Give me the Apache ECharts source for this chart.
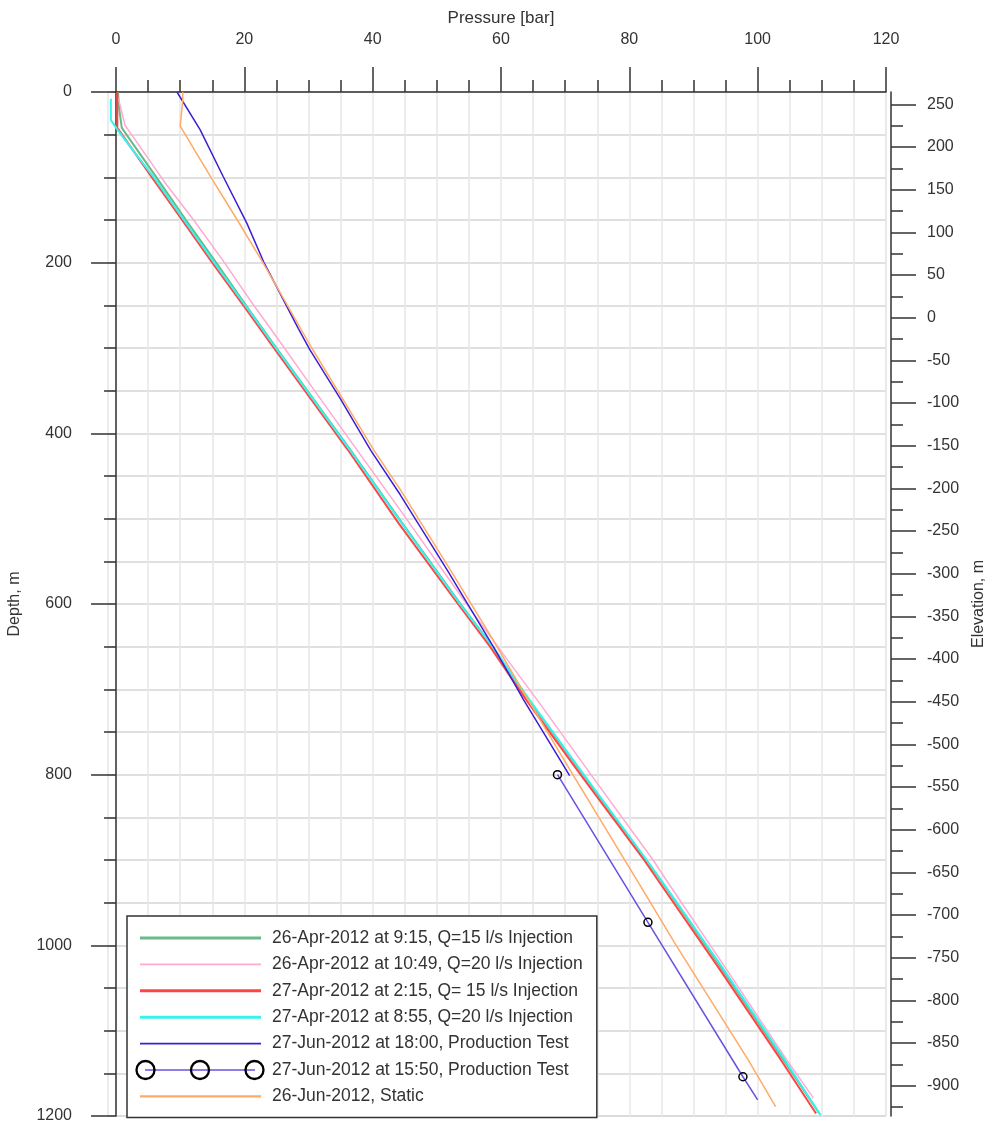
<!DOCTYPE html>
<html><head><meta charset="utf-8">
<script src="https://cdn.jsdelivr.net/npm/echarts@6.0.0/dist/echarts.min.js"></script>
<style>html,body{margin:0;padding:0;background:#fff}#c{width:987px;height:1124px}</style>
</head><body><div id="c"></div>
<script>
// ---- data: [pressure bar, depth m] ----
const seriesNames = [
  '26-Apr-2012 at 9:15, Q=15 l/s Injection',
  '26-Apr-2012 at 10:49, Q=20 l/s Injection',
  '27-Apr-2012 at 2:15, Q= 15 l/s Injection',
  '27-Apr-2012 at 8:55, Q=20 l/s Injection',
  '27-Jun-2012 at 18:00, Production Test',
  '27-Jun-2012 at 15:50, Production Test',
  '26-Jun-2012, Static'
];
const apr26_0915 = [[0.3,0],[0.5,20],[0.9,42],[6.3,100],[10.9,150],[15.6,200],[21.1,259],[25.0,300],[36.5,419],[44.3,502],[53.7,600],[58.7,650],[64.3,712],[72.8,800],[82.6,900],[84.9,924],[94.2,1025],[104.0,1134],[109.6,1197]];
const apr26_1049 = [[0.35,7],[1.4,39],[6.6,95],[7.9,109],[12.1,150],[16.9,200],[20.9,244],[25.3,290],[30.0,340],[35.7,400],[44.3,490],[53.7,590],[58.5,640],[65.6,712],[74.5,805],[83.7,900],[85.8,924],[95.3,1030],[104.5,1134],[108.7,1179]];
const apr27_0215 = [[0.2,0],[0.2,42],[5.6,100],[10.3,150],[15.0,200],[20.7,259],[24.6,300],[36.1,419],[44.0,505],[53.3,600],[58.3,650],[63.9,712],[72.4,800],[82.3,900],[84.5,924],[93.8,1025],[103.6,1134],[109.1,1197]];
const apr27_0855 = [[-0.8,8],[-0.8,33],[0.3,45],[3.0,72],[5.9,100],[10.6,150],[15.3,200],[21.0,259],[24.9,300],[36.4,419],[44.2,502],[53.6,600],[58.7,650],[64.4,712],[72.9,800],[82.7,900],[85.0,924],[94.4,1025],[104.2,1134],[109.8,1199]];
const jun27_1800 = [[9.5,0],[13.1,44],[16.7,99],[20.4,154],[23.0,199],[28.4,277],[30.2,302],[35.0,360],[39.7,420],[44.3,472],[51.6,560],[58.8,650],[63.5,712],[70.7,801]];
const jun27_1550 = [[68.8,800],[82.9,973],[97.7,1154],[100.0,1181]];
const jun26_static = [[10.4,0],[10.4,10],[10.0,40],[14.8,100],[18.9,150],[22.9,200],[30.5,300],[40.2,420],[44.3,466],[52.1,560],[58.6,640],[64.2,712],[71.2,800],[81.3,925],[87.3,1000],[98.5,1134],[102.8,1189]];

// right axis: elevation = wellhead elevation - depth
const wellheadElevation = 264.5;
const elevationMajorTicks = [250,200,150,100,50,0,-50,-100,-150,-200,-250,-300,-350,-400,-450,-500,-550,-600,-650,-700,-750,-800,-850,-900];
const elevationMinorTicks = [225,175,125,75,25,-25,-75,-125,-175,-225,-275,-325,-375,-425,-475,-525,-575,-625,-675,-725,-775,-825,-875,-925];

// ---- styles ----
const colors = ['#66bb88','#ffaad4','#ff4444','#38f2ee','#3a1fd6','#6a50e0','#ffaa66'];
const plotWidths = [2,1.5,2,2,1.5,1.5,1.5];
const legendWidths = [3,1.8,3,3,1.6,1.6,2.2];
const FONT = '"Liberation Sans", Arial, sans-serif';
const AX = '#333';

function lineIcon(color, w) {
  const svg = `<svg xmlns='http://www.w3.org/2000/svg' width='130' height='22'><line x1='5' y1='11' x2='126' y2='11' stroke='${color}' stroke-width='${w}'/></svg>`;
  return 'image://data:image/svg+xml;charset=utf-8,' + encodeURIComponent(svg);
}
function markerIcon(color, w) {
  const svg = `<svg xmlns='http://www.w3.org/2000/svg' width='130' height='22'><line x1='10' y1='11' x2='120' y2='11' stroke='${color}' stroke-width='${w}'/>` +
    `<circle cx='10.5' cy='11' r='9' fill='none' stroke='#000' stroke-width='2.3'/><circle cx='65' cy='11' r='9' fill='none' stroke='#000' stroke-width='2.3'/><circle cx='119.5' cy='11' r='9' fill='none' stroke='#000' stroke-width='2.3'/></svg>`;
  return 'image://data:image/svg+xml;charset=utf-8,' + encodeURIComponent(svg);
}

const allData = [apr26_0915, apr26_1049, apr27_0215, apr27_0855, jun27_1800, jun27_1550, jun26_static];

const series = allData.map((d, i) => {
  const s = {
    name: seriesNames[i], type: 'line', xAxisIndex: 0, yAxisIndex: 0,
    data: d, symbol: 'none', smooth: false, animation: false,
    lineStyle: {color: colors[i], width: plotWidths[i]}, itemStyle: {color: colors[i]},
    emphasis: {disabled: true}, z: 3 + i
  };
  if (i === 5) {
    s.symbol = 'circle'; s.symbolSize = 8; s.showSymbol = true;
    s.itemStyle = {color: 'rgba(255,255,255,0)', borderColor: '#000', borderWidth: 1.5};
    s.data = d.map((p, k) => k === d.length - 1 ? {value: p, symbol: 'none'} : {value: p});
  }
  return s;
});

const chart = echarts.init(document.getElementById('c'), null, {renderer: 'canvas'});
chart.setOption({
  animation: false,
  backgroundColor: '#fff',
  textStyle: {fontFamily: FONT},
  grid: [
    {left: 108, top: 92, width: 778, height: 1024, show: true, borderColor: '#d8d8d8', borderWidth: 1, outerBoundsMode: 'none', containLabel: false},
    {left: 116, top: 92, width: 770, height: 1024, outerBoundsMode: 'none', containLabel: false}
  ],
  xAxis: [
    {gridIndex: 0, type: 'value', min: -1.25, max: 120, show: false},
    {gridIndex: 1, type: 'value', position: 'top', min: 0, max: 120, interval: 20, offset: 7,
     name: 'Pressure [bar]', nameLocation: 'middle', nameGap: 56,
     nameTextStyle: {fontSize: 17, color: AX, fontFamily: FONT},
     axisLine: {show: true, lineStyle: {color: AX, width: 1.5}},
     axisTick: {show: true, length: 25, inside: false, lineStyle: {color: AX, width: 1.5}},
     minorTick: {show: true, splitNumber: 4, length: 12, lineStyle: {color: AX, width: 1.5}},
     axisLabel: {margin: 37, fontSize: 16, color: AX, fontFamily: FONT, formatter: v => String(v)},
     splitLine: {show: true, lineStyle: {color: '#e8e8e8', width: 1.5}},
     minorSplitLine: {show: true, lineStyle: {color: '#e8e8e8', width: 1.5}}
    }
  ],
  yAxis: [
    {gridIndex: 0, type: 'value', inverse: true, min: 0, max: 1200, interval: 200, position: 'left',
     name: 'Depth, m', nameLocation: 'middle', nameGap: 85, nameRotate: 90,
     nameTextStyle: {fontSize: 16, color: AX, fontFamily: FONT},
     axisLine: {show: true, lineStyle: {color: AX, width: 1.5}},
     axisTick: {show: true, length: 25, lineStyle: {color: AX, width: 1.5}},
     minorTick: {show: true, splitNumber: 4, length: 12, lineStyle: {color: AX, width: 1.5}},
     axisLabel: {margin: 36, fontSize: 16, color: AX, fontFamily: FONT, formatter: v => String(v)},
     splitLine: {show: true, lineStyle: {color: '#d6d6d6', width: 1.5}},
     minorSplitLine: {show: true, lineStyle: {color: '#d6d6d6', width: 1.5}}
    },
    {gridIndex: 0, type: 'value', inverse: true, min: 0, max: 1200, position: 'right', offset: 5,
     name: 'Elevation, m', nameLocation: 'middle', nameGap: 80, nameRotate: 90,
     nameTextStyle: {fontSize: 16, color: AX, fontFamily: FONT},
     axisLine: {show: true, onZero: false, lineStyle: {color: AX, width: 1.5}},
     axisTick: {show: true, length: 25, lineStyle: {color: AX, width: 1.5},
                customValues: elevationMajorTicks.map(e => wellheadElevation - e)},
     axisLabel: {margin: 36, fontSize: 16, color: AX, fontFamily: FONT,
                 customValues: elevationMajorTicks.map(e => wellheadElevation - e),
                 formatter: v => String(Math.round(wellheadElevation - v))},
     splitLine: {show: false}
    },
    {gridIndex: 0, type: 'value', inverse: true, min: 0, max: 1200, position: 'right', offset: 5,
     axisLine: {show: false},
     axisTick: {show: true, length: 12, lineStyle: {color: AX, width: 1.5},
                customValues: elevationMinorTicks.map(e => wellheadElevation - e)},
     axisLabel: {show: false},
     splitLine: {show: false}
    },
    {gridIndex: 1, type: 'value', inverse: true, min: 0, max: 1200, show: false}
  ],
  legend: {
    show: true, orient: 'vertical', left: 127, top: 916,
    backgroundColor: '#fff', borderColor: '#333', borderWidth: 1.5,
    padding: [11, 14, 10, 8],
    itemWidth: 130, itemHeight: 22, itemGap: 4.4,
    selectedMode: false,
    textStyle: {fontSize: 17.5, color: '#333', fontFamily: FONT, padding: [0, 0, 0, 2]},
    data: seriesNames.map((n, i) => ({name: n, icon: i === 5 ? markerIcon(colors[i], legendWidths[i]) : lineIcon(colors[i], legendWidths[i])}))
  },
  series: series
});
</script>
</body></html>
